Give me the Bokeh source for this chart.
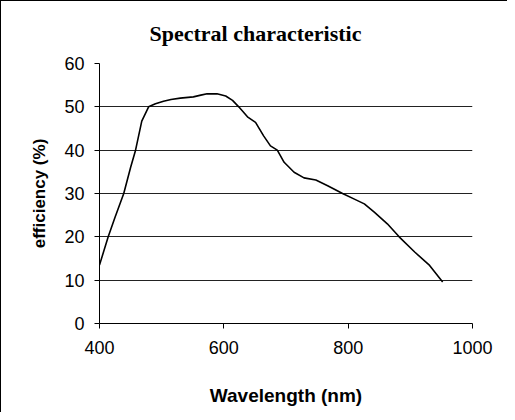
from bokeh.plotting import figure
from bokeh.models import FixedTicker, Range1d
from bokeh.embed import file_html
from bokeh.resources import INLINE

wavelength = [400, 414, 425, 439, 450, 458, 468, 479, 490, 503, 515, 530, 551, 563,
              573, 589, 603, 614, 624, 638, 651, 664, 675, 686, 697, 713, 729, 748,
              767, 791, 810, 826, 842, 863, 882, 907, 931, 952]
efficiency = [13.5, 20, 24.5, 30, 36, 40, 46.7, 50, 50.7, 51.3, 51.7, 52, 52.3, 52.7,
              53, 53, 52.5, 51.5, 50, 47.7, 46.4, 43.3, 41, 40, 37.2, 34.9, 33.6, 33.1,
              31.8, 30, 28.7, 27.6, 25.7, 23, 20, 16.5, 13.4, 9.6]
x_ticks = [400, 600, 800, 1000]
y_ticks = [0, 10, 20, 30, 40, 50, 60]
grid_ticks = [10, 20, 30, 40, 50]
title_text = "Spectral characteristic"
x_label = "Wavelength (nm)"
y_label = "efficiency (%)"

p = figure(width=507, height=412, output_backend="svg", toolbar_location=None,
           x_range=Range1d(400, 1000), y_range=Range1d(0, 60),
           min_border_left=98, min_border_right=36, min_border_top=61, min_border_bottom=90,
           title=title_text)
p.styles = {"border-top": "1px solid #000", "border-left": "1px solid #000"}
p.outline_line_color = None
p.background_fill_color = "white"
p.border_fill_color = "white"

p.title.align = "left"
p.title.offset = 50
p.title.text_font = "Liberation Serif"
p.title.text_font_style = "bold"
p.title.text_font_size = "22px"
p.title.text_color = "black"
p.title.standoff = 35

p.line(wavelength, efficiency, line_color="black", line_width=1.6)

for ax in (p.xaxis[0], p.yaxis[0]):
    ax.axis_line_color = "black"
    ax.major_tick_line_color = "black"
    ax.major_tick_out = 5
    ax.major_tick_in = 0
    ax.minor_tick_line_color = None
    ax.major_label_text_font = "Liberation Sans"
    ax.major_label_text_font_size = "18px"
    ax.major_label_text_color = "black"
    ax.axis_label_text_font = "Liberation Sans"
    ax.axis_label_text_font_style = "bold"
    ax.axis_label_text_color = "black"

p.xaxis.ticker = FixedTicker(ticks=x_ticks)
p.yaxis.ticker = FixedTicker(ticks=y_ticks)
p.xaxis.axis_label = x_label
p.yaxis.axis_label = y_label
p.xaxis.axis_label_text_font_size = "19px"
p.yaxis.axis_label_text_font_size = "17px"
p.xaxis.major_label_standoff = 12
p.yaxis.major_label_standoff = 10
p.xaxis.axis_label_standoff = 28
p.yaxis.axis_label_standoff = 12

p.xgrid.grid_line_color = None
p.ygrid.ticker = FixedTicker(ticks=grid_ticks)
p.ygrid.grid_line_color = "#222222"
p.ygrid.grid_line_width = 1

open("out.html", "w").write(file_html(p, INLINE))
